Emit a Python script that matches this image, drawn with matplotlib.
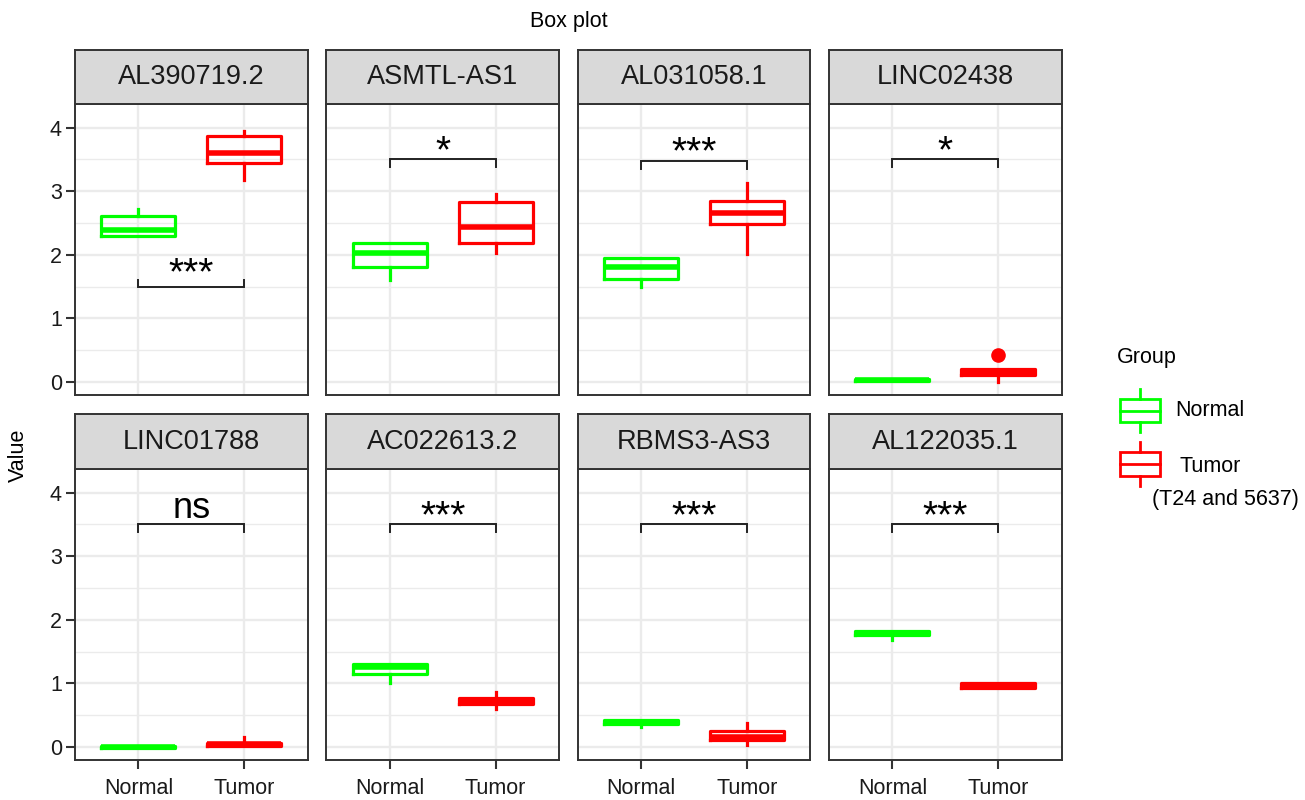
import matplotlib
matplotlib.use("Agg")
from matplotlib import pyplot as plt
from matplotlib.patches import Rectangle

plt.rcParams['font.family'] = ['Liberation Sans', 'DejaVu Sans']

genes = ["AL390719.2", "ASMTL-AS1", "AL031058.1", "LINC02438",
         "LINC01788", "AC022613.2", "RBMS3-AS3", "AL122035.1"]
groups = ["Normal", "Tumor"]

# whisker low, q1, median, q3, whisker high
normal_stats = [
    [2.30, 2.30, 2.39, 2.61, 2.72],
    [1.60, 1.80, 2.03, 2.18, 2.18],
    [1.50, 1.62, 1.81, 1.95, 1.95],
    [0.01, 0.01, 0.03, 0.05, 0.05],
    [-0.01, -0.01, 0.005, 0.02, 0.02],
    [1.01, 1.15, 1.26, 1.30, 1.30],
    [0.31, 0.36, 0.39, 0.42, 0.42],
    [1.68, 1.76, 1.79, 1.83, 1.83],
]
tumor_stats = [
    [3.18, 3.45, 3.60, 3.87, 3.95],
    [2.03, 2.18, 2.43, 2.83, 2.95],
    [2.01, 2.48, 2.66, 2.85, 3.13],
    [0.00, 0.11, 0.16, 0.21, 0.21],
    [0.01, 0.01, 0.04, 0.06, 0.16],
    [0.60, 0.68, 0.73, 0.77, 0.87],
    [0.03, 0.11, 0.16, 0.25, 0.37],
    [0.93, 0.93, 0.97, 1.00, 1.00],
]
tumor_outliers = [[], [], [], [0.42], [], [], [], []]

sig_labels = ["***", "*", "***", "*", "ns", "***", "***", "***"]
bracket_y = [1.50, 3.50, 3.47, 3.50, 3.50, 3.50, 3.50, 3.50]
bracket_up = [True, False, False, False, False, False, False, False]

colors = {"Normal": "#00FF00", "Tumor": "#FF0000"}
frame = "#333333"
gridc = "#EBEBEB"

W, H = 1305, 800
fig = plt.figure(figsize=(W / 100, H / 100), dpi=100)


def px_rect(x0, y0, w, h):
    return [x0 / W, 1 - (y0 + h) / H, w / W, h / H]


col_left = [75, 326.3, 577.7, 829]
panel_w = 232.7
panel_top = [104, 469]
panel_h = 291
strip_top = [50, 414]
strip_h = [54, 55]


def stats_dict(s, fliers):
    return dict(whislo=s[0], q1=s[1], med=s[2], q3=s[3], whishi=s[4], fliers=fliers)


for i, gene in enumerate(genes):
    row, col = divmod(i, 4)
    ax = fig.add_axes(px_rect(col_left[col], panel_top[row], panel_w, panel_h))

    for pos, grp, s, fl in [(1, "Normal", normal_stats[i], []),
                            (2, "Tumor", tumor_stats[i], tumor_outliers[i])]:
        c = colors[grp]
        ax.bxp([stats_dict(s, fl)], positions=[pos], widths=0.70,
               showcaps=False, manage_ticks=False,
               boxprops=dict(color=c, lw=2.3, solid_joinstyle='round'),
               whiskerprops=dict(color=c, lw=2.3),
               medianprops=dict(color=c, lw=4, solid_capstyle='butt'),
               flierprops=dict(marker='o', markerfacecolor=c,
                               markeredgecolor=c, markersize=9.5))

    ax.set_xlim(0.4, 2.6)
    ax.set_ylim(-0.205, 4.37)
    ax.set_xticks([1, 2])
    ax.set_xticklabels(groups)
    ax.set_yticks([0, 1, 2, 3, 4])
    ax.set_yticks([0.5, 1.5, 2.5, 3.5], minor=True)
    ax.grid(which='major', color=gridc, lw=1.7)
    ax.grid(which='minor', axis='y', color=gridc, lw=1.0)
    ax.set_axisbelow(True)
    ax.tick_params(which='minor', length=0)
    ax.tick_params(which='major', length=6.5, width=1.5, color=frame,
                   labelsize=15.5, labelcolor='#1A1A1A', pad=3)
    ax.tick_params(axis='x', pad=6.5)
    for sp in ax.spines.values():
        sp.set_color(frame)
        sp.set_linewidth(1.4)
    if col != 0:
        ax.tick_params(axis='y', length=0, labelleft=False)
    if row == 0:
        ax.tick_params(axis='x', length=0, labelbottom=False)

    # significance bracket
    y = bracket_y[i]
    d = -0.10 if bracket_up[i] else 0.12
    ax.plot([1, 1, 2, 2], [y - d, y, y, y - d], color='#222222', lw=1.4,
            solid_joinstyle='miter')
    is_ns = sig_labels[i] == "ns"
    off = 0.10 if is_ns else -0.04
    if bracket_up[i]:
        off += 0.08
    ax.text(1.5, y + off, sig_labels[i], ha='center', va='baseline',
            fontsize=26 if is_ns else 28, color='black')

    # facet strip
    sax = fig.add_axes(px_rect(col_left[col], strip_top[row], panel_w, strip_h[row]))
    sax.set_facecolor('#D9D9D9')
    sax.set_xticks([])
    sax.set_yticks([])
    for sp in sax.spines.values():
        sp.set_color(frame)
        sp.set_linewidth(1.4)
    sax.text(0.5, 0.5, gene, ha='center', va='center', fontsize=19.5,
             color='#1A1A1A', transform=sax.transAxes)

fig.text((75 + 1062) / 2 / W, 1 - 22 / H, "Box plot", ha='center', va='center',
         fontsize=15.5)
fig.text(18 / W, 1 - 455 / H, "Value", rotation=90, ha='center', va='center',
         fontsize=15.5)

# legend drawn in pixel space
lax = fig.add_axes([0, 0, 1, 1])
lax.set_xlim(0, W)
lax.set_ylim(H, 0)
lax.axis('off')
lax.text(1117, 358, "Group", ha='left', va='center', fontsize=15.5)
for grp, (b0, b1, med) in zip(groups, [(399, 422, 411), (452, 476, 464)]):
    c = colors[grp]
    lax.add_patch(Rectangle((1120, b0), 40, b1 - b0, fill=False, ec=c, lw=2))
    lax.plot([1120, 1160], [med, med], color=c, lw=2)
    lax.plot([1140, 1140], [b0 - 10, b0], color=c, lw=2)
    lax.plot([1140, 1140], [b1, b1 + 10], color=c, lw=2)
lax.text(1175, 411, "Normal", ha='left', va='center', fontsize=15.5)
lax.text(1180, 467, "Tumor", ha='left', va='center', fontsize=15.5)
lax.text(1152, 500, "(T24 and 5637)", ha='left', va='center', fontsize=15.5)

fig.savefig("out.png", dpi=100)
